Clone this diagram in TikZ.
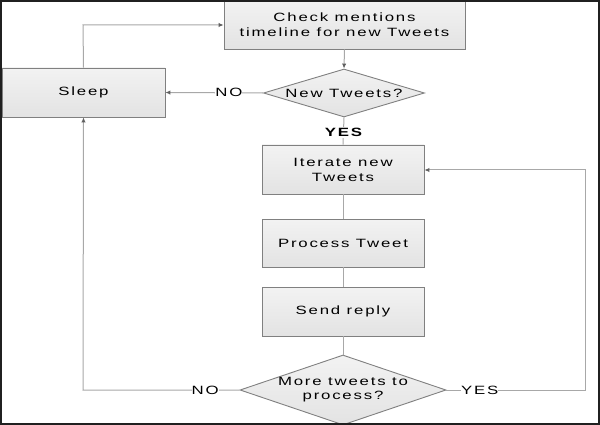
\documentclass[tikz,border=0pt]{standalone}
\usepackage{fontspec}
\setmainfont{Liberation Sans}[FakeStretch=1.4,LetterSpace=15]
\usetikzlibrary{shapes.geometric,arrows.meta}
\definecolor{boxedge}{HTML}{808080}
\definecolor{lineclr}{HTML}{A8A8A8}
\definecolor{tipclr}{HTML}{606060}
\definecolor{frameclr}{HTML}{202020}
\tikzset{
  stepbox/.style={draw=boxedge,line width=0.9pt,rectangle,top color=white!95!black,bottom color=white!89!black,
    minimum width=#1,minimum height=49pt,inner sep=0pt,align=center,font=\fontsize{12}{15}\selectfont},
  decide/.style={draw=boxedge,line width=0.9pt,diamond,aspect=1,top color=white!95!black,bottom color=white!89!black,
    inner sep=0pt,align=center,font=\fontsize{12}{15}\selectfont},
  conn/.style={draw=lineclr,line width=1pt},
  arr/.style={conn,-{Latex[length=5pt,width=4.5pt,color=tipclr]}},
  lbl/.style={fill=white,inner xsep=0pt,inner ysep=1pt,font=\fontsize{12}{14}\selectfont},
}
\begin{document}
\begin{tikzpicture}[x=1pt,y=-1pt]
\useasboundingbox (0,0) rectangle (600,425);
\fill[white] (0,0) rectangle (600,425);
\begin{scope}
\clip (0,0) rectangle (600,425);
\node[stepbox=241pt,minimum height=48pt] (check) at (344.5,25) {Check mentions\\timeline for new Tweets};
\node[stepbox=163pt] (sleep) at (83.5,92.5) {Sleep};
\node[decide,minimum width=161pt,minimum height=48pt] (dnew) at (344,93) {};
\node[font=\fontsize{12}{15}\selectfont] (dnewt) at (344,93) {New Tweets?};
\node[stepbox=162pt] (iter) at (343,169.5) {Iterate new\\Tweets};
\node[stepbox=162pt,minimum height=48pt] (proc) at (343,243) {Process Tweet};
\node[stepbox=162pt] (send) at (343,311.5) {Send reply};
\node[decide,minimum width=206pt,minimum height=70pt] (dmore) at (343,390) {};
\node[font=\fontsize{12}{14}\selectfont,align=center] (dmoret) at (343,390) {More tweets to\\process?};
\coordinate (sl) at (83,390);
\coordinate (tr) at (585,390);
\coordinate (tt) at (585,170);
\coordinate (st) at (83,25);
% connectors
\draw[arr] (check.south) -- (dnew.north);
\draw[arr] (dnew.west) -- node[lbl,pos=0.35] (nolbl) {NO} (sleep.east);
\draw[conn] (dnew.south) -- node[lbl,font=\bfseries\fontsize{12}{14}\selectfont,pos=0.55] (yeslbl) {YES} (iter.north);
\draw[conn] (iter.south) -- (proc.north);
\draw[conn] (proc.south) -- (send.north);
\draw[conn] (send.south) -- (dmore.north);
\draw[arr] (dmore.west) -- node[lbl,pos=0.22] (nolbl2) {NO} (sl) -- (sleep.south);
\draw[arr] (dmore.east) -- node[lbl,pos=0.24] (yeslbl2) {YES} (tr) -- (tt) -- (iter.east |- tt);
\draw[arr] (sleep.north) -- (st) -- (check.west);
\end{scope}
\draw[frameclr,line width=2pt] (1,1) rectangle (599,424);
\end{tikzpicture}
\end{document}
